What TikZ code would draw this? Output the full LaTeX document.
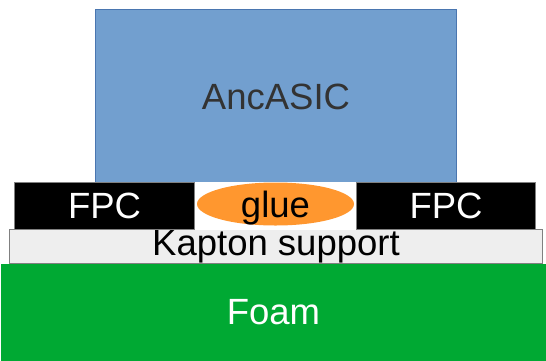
\documentclass[tikz,border=0pt]{standalone}
\usepackage{fontspec}
\setmainfont{Liberation Sans}
\usetikzlibrary{positioning}
\usetikzlibrary{shapes.geometric}
\definecolor{asicblue}{HTML}{729FCF}
\definecolor{asicedge}{HTML}{4A76B0}
\definecolor{gluefill}{HTML}{FF972F}
\definecolor{kaptonfill}{HTML}{EEEEEE}
\definecolor{foamgreen}{HTML}{00A933}
\definecolor{darktext}{HTML}{333333}
\tikzset{layer/.style = {rectangle, draw=gray, line width=1pt, inner sep = 0,
                         anchor=north west, font=\fontsize{36.5}{40}\selectfont}}
\tikzset{blob/.style = {ellipse, fill=gluefill, inner sep = 0,
                        font=\fontsize{36.5}{40}\selectfont}}

\begin{document}
\begin{tikzpicture}[x=1pt,y=-1pt]
    \useasboundingbox (0,0) rectangle (546,360);
    \node[layer, draw=none, fill=foamgreen, text=white, minimum width=546, minimum height=97] (foam) at (0,263) {Foam};
    \node[layer, fill=kaptonfill, minimum width=533, minimum height=34] (kapton) at (9,229) {Kapton support};
    \node[layer, fill=asicblue, draw=asicedge, text=darktext, minimum width=361, minimum height=174] (asic) at (95,9) {AncASIC};
    \node[layer, fill=black, text=white, minimum width=180, minimum height=47] (fpcl) at (14,182) {FPC};
    \node[layer, fill=black, text=white, minimum width=179, minimum height=47] (fpcr) at (356,182) {FPC};
    \fill[white] (fpcl.north east) rectangle (fpcr.south west); % gap between the FPCs
    \node[blob, minimum width=157, minimum height=43,
          label={[font=\fontsize{36.5}{40}\selectfont, inner sep=0, yshift=-4pt]center:glue}] (glue) at (275.5,204) {};
\end{tikzpicture}
\end{document}
